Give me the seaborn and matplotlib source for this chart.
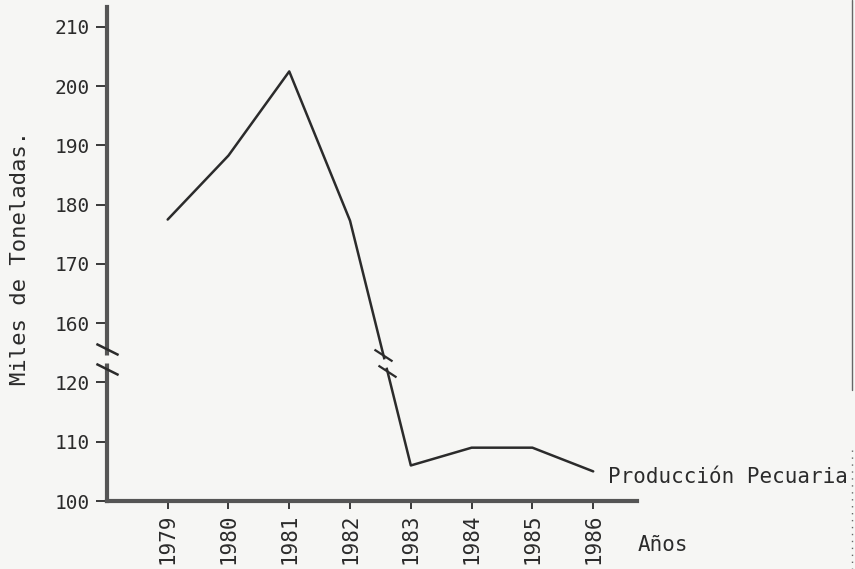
import numpy as np
import matplotlib
matplotlib.use("Agg")
import matplotlib.pyplot as plt
import seaborn as sns
from matplotlib.lines import Line2D

# data (thousands of tonnes)
years = [1979, 1980, 1981, 1982, 1983, 1984, 1985, 1986]
production = [177.5, 188.3, 202.5, 177.3, 106.0, 109.0, 109.0, 105.0]
y_tick_values = [100, 110, 120, 160, 170, 180, 190, 200, 210]
series_label = "Producción Pecuaria"

PAPER = "#f6f6f4"
INK = "#2b2b2b"
AXIS = "#555555"


def to_axis(v):
    # broken axis: 120..160 is squeezed out
    return v - 100 if v <= 120 else v - 130


sns.set_style("white")
plt.rcParams["font.family"] = ["DejaVu Sans Mono", "DejaVu Sans"]

fig = plt.figure(figsize=(8.55, 5.69), dpi=100, facecolor=PAPER)
ax = fig.add_axes([0.125, 0.1195, 0.62, 0.8685])
ax.set_facecolor(PAPER)

plot_vals = [to_axis(v) for v in production]
sns.lineplot(x=years, y=plot_vals, ax=ax, color=INK, linewidth=1.8)

ax.set_xlim(1978.0, 1986.72)
ax.set_ylim(0, 83.4)

ax.set_yticks([to_axis(v) for v in y_tick_values])
ax.set_yticklabels([str(v) for v in y_tick_values], fontsize=14, color=INK)
ax.set_xticks(years)
ax.set_xticklabels([str(y) for y in years], rotation=90, fontsize=15, color=INK)

ax.tick_params(axis="y", left=True, length=8, width=1.3, color=INK, pad=4)
ax.tick_params(axis="x", bottom=True, length=6, width=1.3, color=INK, pad=3)

for s in ["top", "right"]:
    ax.spines[s].set_visible(False)
for s in ["left", "bottom"]:
    ax.spines[s].set_color(AXIS)
    ax.spines[s].set_linewidth(3)

# break marks on the y axis
x0 = ax.get_xlim()[0]
ax.plot([x0, x0], [24.6, 23.3], color=PAPER, lw=5, solid_capstyle="butt",
        clip_on=False, zorder=4)
for yb in [25.6, 22.3]:
    ax.plot([x0], [yb], marker=[(-1, 0.5), (1, -0.5)], ms=16, mec=INK,
            mew=1.8, ls="none", clip_on=False, zorder=5)

# break marks on the line between 1982 and 1983
xa, xb = years[3], years[4]
ya, yb_ = plot_vals[3], plot_vals[4]


def x_on_line(y):
    return xa + (y - ya) / (yb_ - ya) * (xb - xa)


ax.plot([x_on_line(23.9), x_on_line(22.5)], [23.9, 22.5], color=PAPER, lw=4,
        solid_capstyle="butt", zorder=4)
for ym in [24.6, 21.9]:
    ax.plot([x_on_line(ym)], [ym], marker=[(-1, 0.65), (1, -0.65)], ms=13,
            mec=INK, mew=1.6, ls="none", zorder=5)

# series label at line end
ax.annotate(series_label, xy=(years[-1], plot_vals[-1]), xytext=(11, -4),
            textcoords="offset points", ha="left", va="center",
            fontsize=15, color=INK, annotation_clip=False)

ax.text(1.002, -0.089, "Años", transform=ax.transAxes, ha="left", va="center",
        fontsize=15, color=INK)
fig.text(20 / 855, 1 - 258 / 569, "Miles de Toneladas.", rotation=90,
         ha="center", va="center", fontsize=16, color=INK)

# page edge seen on the scan
fig.add_artist(Line2D([852 / 855, 852 / 855], [1.0, 1 - 390 / 569],
                      transform=fig.transFigure, color="#666666", lw=1))
fig.add_artist(Line2D([852 / 855, 852 / 855], [1 - 450 / 569, 0.0],
                      transform=fig.transFigure, color="#666666", lw=1,
                      ls=(0, (1, 4))))

fig.savefig("out.png", dpi=100, facecolor=PAPER)
